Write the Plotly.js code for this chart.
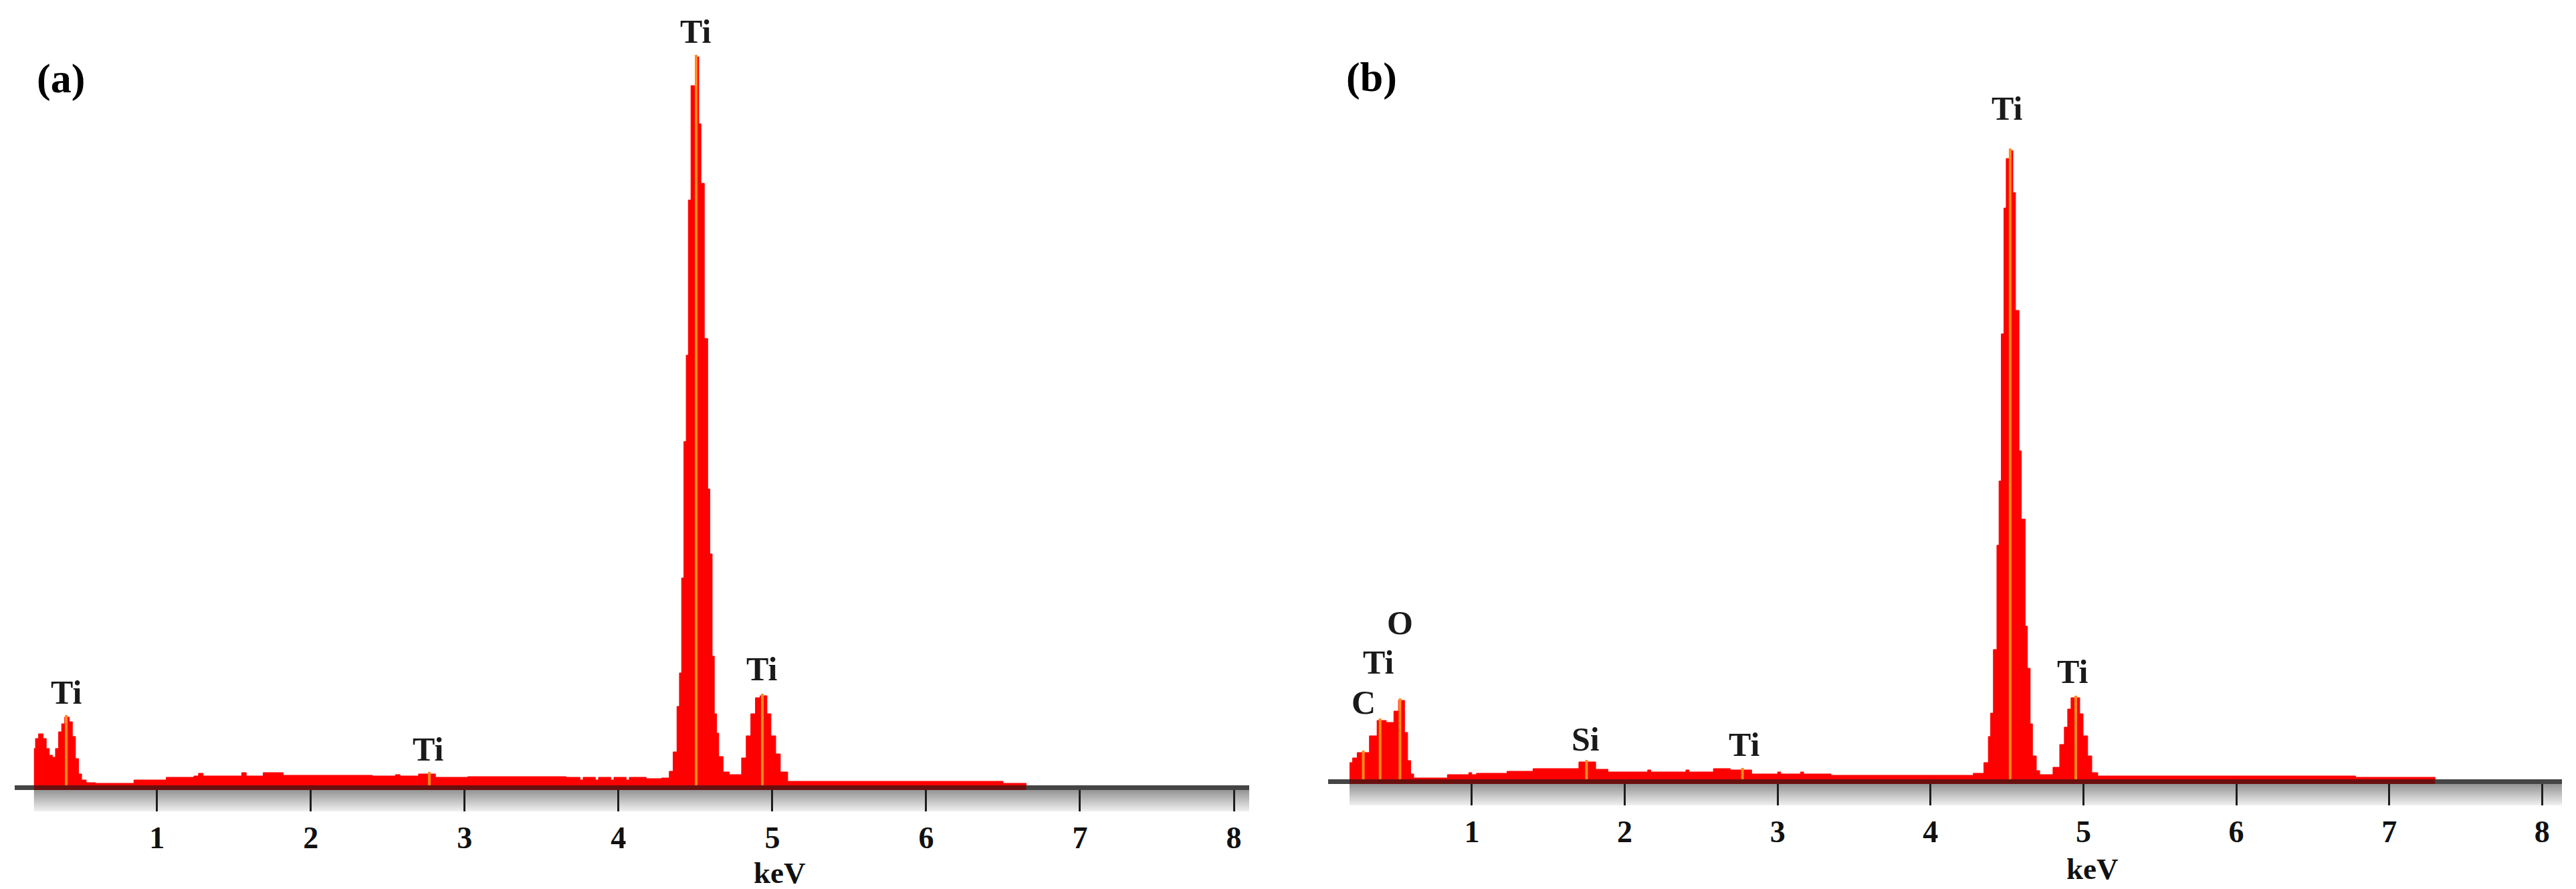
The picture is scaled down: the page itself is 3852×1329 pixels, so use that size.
<!DOCTYPE html>
<html><head><meta charset="utf-8">
<script src="https://cdn.plot.ly/plotly-3.0.1.min.js"></script>
<style>html,body{margin:0;padding:0;background:#fff;} #chart{width:3852px;height:1329px;}</style>
</head><body><div id="chart"></div>
<script>
// ---------- data ----------
// Panel (a): EDS spectrum, channel start energy (keV) and counts (arb. units)
const energyA = [0.20,0.21,0.23,0.26,0.28,0.30,0.32,0.34,0.36,0.38,0.40,0.43,0.45,0.47,0.49,0.51,0.54,0.60,0.85,1.06,1.24,1.27,1.30,1.55,1.58,1.69,1.82,2.40,2.55,2.58,2.70,2.81,3.02,3.66,3.75,3.77,3.85,3.87,3.95,3.97,4.05,4.07,4.18,4.28,4.33,4.355,4.38,4.396,4.41,4.425,4.44,4.454,4.471,4.50,4.522,4.536,4.558,4.58,4.594,4.609,4.623,4.638,4.652,4.68,4.72,4.80,4.83,4.86,4.89,4.92,4.965,4.991,5.022,5.052,5.10,6.50,6.65];
const countsA = [55,70,77,70,55,45,42,55,80,92,102,95,73,40,17,8,4,3,8,12,14,18,14,19,14,19,15,14,16,14,17,12,13,12,8,12,8,12,8,12,8,12,10,11,21,50,118,168,310,514,643,875,1046,1089,989,900,668,443,346,193,107,78,43,20,16,41,74,107,131,134,107,74,47,20,6,3,0];
const lineEnergyA = [0.41, 2.77, 4.505, 4.935];
const labelTextA = ['Ti','Ti','Ti','Ti'];
const labelEnergyA = [0.41, 2.76, 4.50, 4.93];
const labelCountA = [139, 54, 1127, 174];

// Panel (b)
const energyB = [0.20,0.22,0.25,0.33,0.38,0.44,0.49,0.52,0.56,0.58,0.60,0.62,0.84,0.98,1.00,1.03,1.23,1.40,1.70,1.81,1.89,2.15,2.17,2.40,2.42,2.58,2.69,2.83,3.00,3.02,3.15,3.17,3.35,4.28,4.349,4.378,4.393,4.411,4.434,4.448,4.463,4.480,4.495,4.517,4.539,4.556,4.579,4.594,4.619,4.634,4.652,4.667,4.692,4.714,4.801,4.845,4.875,4.897,4.919,4.976,4.998,5.028,5.055,5.094,6.78,7.30];
const countsB = [25,32,40,65,88,85,102,118,70,28,8,2,7,10,7,9,12,16,26,15,11,14,11,14,11,16,14,8,11,8,11,8,6,9,25,64,99,194,350,446,666,854,928,940,877,701,491,389,229,166,83,35,13,7,18,52,78,105,122,98,65,35,10,5,3,0];
const lineEnergyB = [0.29, 0.40, 0.53, 1.75, 2.77, 4.521, 4.95];
const labelTextB = ['C','Ti','O','Si','Ti','Ti','Ti'];
const labelEnergyB = [0.29, 0.39, 0.53, 1.745, 2.78, 4.50, 4.93];
const labelCountB = [115, 175, 234, 60, 52, 1003, 161];

const tickValues = [1,2,3,4,5,6,7,8];
const tickLabels = ['1','2','3','4','5','6','7','8'];
const panelNames = ['(a)','(b)'];
const axisTitle = 'keV';

// ---------- layout geometry ----------
const W = 3852, H = 1329;
const fx = p => p / W;
const fy = p => 1 - p / H;
const SERIF = 'Liberation Serif, Times New Roman, serif';

const panels = [
  {E: energyA, C: countsA, lines: lineEnergyA, lt: labelTextA, le: labelEnergyA, lc: labelCountA,
   xa: 'x', ya: 'y', range: [0.075, 8.1], dom: [fx(22), fx(1868)], base: 1174,
   name: panelNames[0], nameX: 91, nameY: 117, titleE: 5.05, titleY: 1305},
  {E: energyB, C: countsB, lines: lineEnergyB, lt: labelTextB, le: labelEnergyB, lc: labelCountB,
   xa: 'x2', ya: 'y2', range: [0.06, 8.13], dom: [fx(1986), fx(3831)], base: 1165,
   name: panelNames[1], nameX: 2051, nameY: 115, titleE: 5.06, titleY: 1299}
];

function stepAt(E, C, e) {
  let v = 0;
  for (let i = 0; i < E.length; i++) { if (E[i] <= e) v = C[i]; }
  return v;
}
function lastNonZero(E, C) {
  let x = E[E.length - 1];
  for (let i = E.length - 1; i >= 0; i--) { if (C[i] > 0) { x = E[i + 1] !== undefined ? E[i + 1] : E[i]; break; } }
  return x;
}

const traces = [];
const annotations = [];
const shapes = [];
const layout = {
  width: W, height: H, autosize: false,
  margin: {l: 0, r: 0, t: 0, b: 0, pad: 0},
  paper_bgcolor: '#ffffff', plot_bgcolor: 'rgba(0,0,0,0)',
  showlegend: false,
};

panels.forEach((p, k) => {
  traces.push({
    type: 'scatter', mode: 'lines', x: p.E, y: p.C,
    line: {shape: 'hv', color: '#ff0000', width: 1},
    fill: 'tozeroy', fillcolor: '#ff0000',
    xaxis: p.xa, yaxis: p.ya, hoverinfo: 'skip'
  });
  const lx = [], ly = [];
  p.lines.forEach(e => { lx.push(e, e, null); ly.push(0, stepAt(p.E, p.C, e) + 3, null); });
  traces.push({
    type: 'scatter', mode: 'lines', x: lx, y: ly,
    line: {color: '#ff8c1a', width: 4},
    xaxis: p.xa, yaxis: p.ya, hoverinfo: 'skip'
  });

  const axKey = k === 0 ? 'xaxis' : 'xaxis2';
  const ayKey = k === 0 ? 'yaxis' : 'yaxis2';
  layout[axKey] = {
    domain: p.dom, range: p.range, anchor: p.ya,
    showline: true, linecolor: '#454545', linewidth: 7,
    ticks: 'outside', ticklen: 32, tickwidth: 3, tickcolor: '#1e1e1e',
    tickmode: 'array', tickvals: tickValues, ticktext: tickLabels,
    tickfont: {family: SERIF, size: 46, color: '#111', weight: 'bold'},
    showgrid: false, zeroline: false, fixedrange: true
  };
  layout[ayKey] = {
    domain: [1 - p.base / H, 1], range: [0, p.base], anchor: p.xa,
    visible: false, showgrid: false, zeroline: false, fixedrange: true
  };

  const bandTop = p.base + 7, bandH = 32, n = 16;
  const c0 = 150, c1 = 238;
  for (let i = 0; i < n; i++) {
    const c = Math.round(c0 + (c1 - c0) * i / (n - 1));
    shapes.push({
      type: 'rect', xref: p.xa, yref: 'paper', layer: 'below',
      x0: p.E[0], x1: p.range[1],
      y0: fy(bandTop + bandH * (i + 1) / n), y1: fy(bandTop + bandH * i / n),
      fillcolor: `rgb(${c},${c},${c})`, line: {width: 0}
    });
  }
  shapes.push({
    type: 'line', xref: p.xa, yref: 'paper', layer: 'above',
    x0: p.E[0], x1: lastNonZero(p.E, p.C),
    y0: fy(p.base + 3.5), y1: fy(p.base + 3.5),
    line: {color: '#6a0f0f', width: 7}
  });

  p.lt.forEach((t, i) => {
    annotations.push({
      text: t, x: p.le[i], y: p.lc[i], xref: p.xa, yref: p.ya,
      showarrow: false, xanchor: 'center', yanchor: 'middle',
      font: {family: SERIF, size: 50, color: '#1a1a1a', weight: 'bold'}
    });
  });
  annotations.push({
    text: axisTitle, x: p.titleE, y: fy(p.titleY), xref: p.xa, yref: 'paper',
    showarrow: false, xanchor: 'center', yanchor: 'middle',
    font: {family: SERIF, size: 45, color: '#111', weight: 'bold'}
  });
  annotations.push({
    text: p.name, x: fx(p.nameX), y: fy(p.nameY), xref: 'paper', yref: 'paper',
    showarrow: false, xanchor: 'center', yanchor: 'middle',
    font: {family: SERIF, size: 62, color: '#000', weight: 'bold'}
  });
});

layout.annotations = annotations;
layout.shapes = shapes;

Plotly.newPlot('chart', traces, layout, {staticPlot: true, displayModeBar: false});
</script>
</body></html>
